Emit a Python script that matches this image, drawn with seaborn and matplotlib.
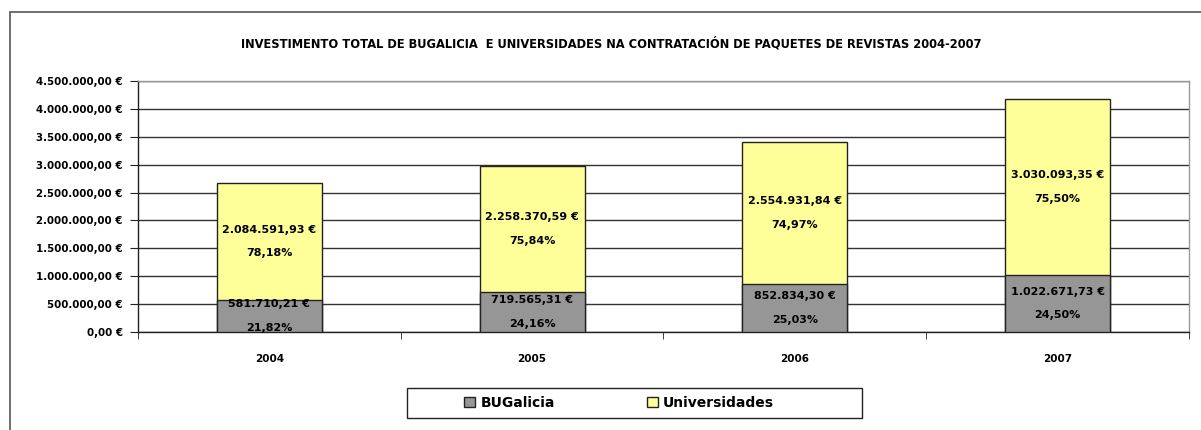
import matplotlib
matplotlib.use('Agg')
import matplotlib.pyplot as plt
import seaborn as sns
import pandas as pd
from matplotlib.ticker import FuncFormatter
from matplotlib.patches import Rectangle, Patch

# Datos (alturas das barras)
anos = ['2004', '2005', '2006', '2007']
bugalicia = [581710.21, 719565.31, 852834.30, 1022671.73]
universidades = [2084591.93, 2258370.59, 2554931.84, 3151500.00]
# Etiquetas tal como aparecen no grafico
etiqueta_bug = [581710.21, 719565.31, 852834.30, 1022671.73]
etiqueta_uni = [2084591.93, 2258370.59, 2554931.84, 3030093.35]
pct_bug = ['21,82%', '24,16%', '25,03%', '24,50%']
pct_uni = ['78,18%', '75,84%', '74,97%', '75,50%']
titulo = ('INVESTIMENTO TOTAL DE BUGALICIA  E UNIVERSIDADES NA CONTRATACIÓN '
          'DE PAQUETES DE REVISTAS 2004-2007')

COR_GRIS = '#969696'
COR_AMARELO = '#FFFF99'
COR_BORDE = '#222222'


def formato_euro(v, pos=None):
    s = f'{v:,.2f}'
    s = s.replace(',', 'X').replace('.', ',').replace('X', '.')
    return s + ' €'


sns.set_style('white')
plt.rcParams['font.family'] = ['DejaVu Sans']
plt.rcParams['font.weight'] = 'bold'
plt.rcParams['text.color'] = 'black'
plt.rcParams['xtick.color'] = 'black'
plt.rcParams['ytick.color'] = 'black'

df = pd.DataFrame({'Ano': anos, 'BUGalicia': bugalicia, 'Universidades': universidades})
df['Total'] = df['BUGalicia'] + df['Universidades']

fig = plt.figure(figsize=(12.01, 4.30), dpi=100)
ax = fig.add_axes([0.1149, 0.2279, 0.8751, 0.5837])

# barras: total (amarelo) e BUGalicia por riba (gris)
sns.barplot(data=df, x='Ano', y='Total', color=COR_AMARELO, saturation=1,
            edgecolor=COR_BORDE, linewidth=1, width=0.4, ax=ax, zorder=3)
sns.barplot(data=df, x='Ano', y='BUGalicia', color=COR_GRIS, saturation=1,
            edgecolor=COR_BORDE, linewidth=1, width=0.4, ax=ax, zorder=3)

ax.set_ylim(0, 4500000)
ax.set_xlim(-0.5, len(anos) - 0.5)
ax.set_yticks([i * 500000 for i in range(10)])
ax.yaxis.set_major_formatter(FuncFormatter(formato_euro))
ax.set_xlabel('')
ax.set_ylabel('')

# grella
ax.yaxis.grid(True, color='#333333', linewidth=1)
ax.xaxis.grid(False)
ax.set_axisbelow(True)

# eixos
for lado in ['top', 'right']:
    ax.spines[lado].set_color('#999999')
    ax.spines[lado].set_linewidth(1)
for lado in ['left', 'bottom']:
    ax.spines[lado].set_color('#222222')
    ax.spines[lado].set_linewidth(1)

ax.set_xticks([i - 0.5 for i in range(len(anos) + 1)], minor=True)
ax.tick_params(axis='x', which='major', length=0, pad=16, labelsize=7.5)
ax.tick_params(axis='x', which='minor', bottom=True, length=5, direction='out', color='#222222')
ax.tick_params(axis='y', left=True, length=6, direction='out', color='#222222', labelsize=7.4, pad=5)

# etiquetas dos valores
for i in range(len(anos)):
    ax.text(i, bugalicia[i] / 2,
            f'{formato_euro(etiqueta_bug[i])}\n{pct_bug[i]}',
            ha='center', va='center', fontsize=8, fontweight='bold', linespacing=2.7, zorder=5)
    ax.text(i, bugalicia[i] + universidades[i] / 2,
            f'{formato_euro(etiqueta_uni[i])}\n{pct_uni[i]}',
            ha='center', va='center', fontsize=8, fontweight='bold', linespacing=2.7, zorder=5)

# titulo
fig.text(0.509, 1 - 44 / 430, titulo, ha='center', va='center', fontsize=8.3, fontweight='bold')

# lenda
manexadores = [Patch(facecolor=COR_GRIS, edgecolor=COR_BORDE),
               Patch(facecolor=COR_AMARELO, edgecolor=COR_BORDE)]
fig.legend(manexadores, ['BUGalicia', 'Universidades'], loc='center',
           bbox_to_anchor=(619 / 1201, 1 - 403 / 430), ncol=2, frameon=False,
           columnspacing=6.6, handlelength=0.8, handleheight=0.8, handletextpad=0.4,
           prop={'size': 10, 'weight': 'bold'})
fig.patches.append(Rectangle((407 / 1201, 1 - 418 / 430), 455 / 1201, 30 / 430,
                             transform=fig.transFigure, fill=False,
                             edgecolor=COR_BORDE, linewidth=1))

# marco exterior
fig.patches.append(Rectangle((10 / 1201, -0.5), 2, 1.5 - 12 / 430,
                             transform=fig.transFigure, fill=False,
                             edgecolor='#555555', linewidth=1.2))

fig.savefig('out.png', dpi=100)
